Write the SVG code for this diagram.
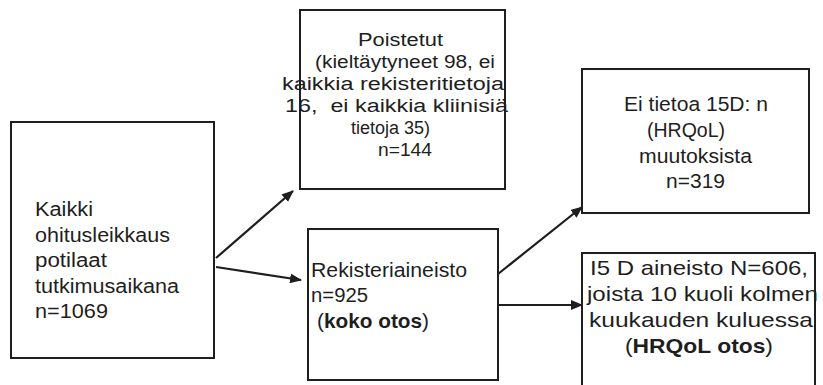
<svg xmlns="http://www.w3.org/2000/svg" width="823" height="385" viewBox="0 0 823 385">
  <style>
    .box { fill: #ffffff; stroke: #1e1e1e; stroke-width: 2; }
    .edge { fill: none; stroke: #1e1e1e; stroke-width: 2.2; }
    text { font-family: "Liberation Sans", Arial, sans-serif; fill: #1e1e1e; }
    .t19 { font-size: 19.5px; }
    .t20 { font-size: 20.5px; }
    .t21 { font-size: 21px; }
    .t17 { font-size: 18px; }
    .b { font-weight: bold; }
    .pre { white-space: pre; }
  </style>
  <defs>
    <marker id="arrow" viewBox="0 0 12 10" refX="11" refY="5" markerWidth="12" markerHeight="10" markerUnits="userSpaceOnUse" orient="auto">
      <path d="M0,0 L12,5 L0,10 Z" fill="#1e1e1e"/>
    </marker>
  </defs>
  <rect width="823" height="385" fill="#ffffff"/>

  <g id="connectors">
    <line class="edge" x1="216" y1="258" x2="293" y2="191" marker-end="url(#arrow)"/>
    <line class="edge" x1="216" y1="267" x2="301" y2="280" marker-end="url(#arrow)"/>
    <line class="edge" x1="498" y1="274" x2="582" y2="207" marker-end="url(#arrow)"/>
    <line class="edge" x1="498" y1="305" x2="582" y2="305" marker-end="url(#arrow)"/>
  </g>

  <g id="kaikki">
    <rect class="box" x="11" y="122" width="203" height="236"/>
    <text class="t19" x="35" y="216" textLength="58" lengthAdjust="spacingAndGlyphs">Kaikki</text>
    <text class="t19" x="35" y="242" textLength="135" lengthAdjust="spacingAndGlyphs">ohitusleikkaus</text>
    <text class="t19" x="35" y="267" textLength="72" lengthAdjust="spacingAndGlyphs">potilaat</text>
    <text class="t19" x="35" y="293" textLength="144" lengthAdjust="spacingAndGlyphs">tutkimusaikana</text>
    <text class="t19" x="35" y="318" textLength="73" lengthAdjust="spacingAndGlyphs">n=1069</text>
  </g>

  <g id="poistetut">
    <rect class="box" x="300" y="10" width="205" height="179"/>
    <text class="t17" x="358" y="46" textLength="85" lengthAdjust="spacingAndGlyphs">Poistetut</text>
    <text class="t17" x="315" y="68" textLength="180" lengthAdjust="spacingAndGlyphs">(kieltäytyneet 98, ei</text>
    <text class="t17" x="282" y="90" textLength="222" lengthAdjust="spacingAndGlyphs">kaikkia rekisteritietoja</text>
    <text class="t17 pre" x="285" y="112" textLength="223" lengthAdjust="spacingAndGlyphs">16,  ei kaikkia kliinisiä</text>
    <text class="t17" x="351" y="134">tietoja<tspan dx="5">35)</tspan></text>
    <text class="t17" x="378" y="156" textLength="54" lengthAdjust="spacingAndGlyphs">n=144</text>
  </g>

  <g id="rekisteri">
    <rect class="box" x="308" y="229" width="190" height="151"/>
    <text class="t20" x="311" y="277" textLength="156" lengthAdjust="spacingAndGlyphs">Rekisteriaineisto</text>
    <text class="t20" x="311" y="302" textLength="57" lengthAdjust="spacingAndGlyphs">n=925</text>
    <text class="t20" x="317" y="328" textLength="112" lengthAdjust="spacingAndGlyphs">(<tspan class="b">koko otos</tspan>)</text>
  </g>

  <g id="ei-tietoa">
    <rect class="box" x="582" y="69" width="227" height="144"/>
    <text class="t20" x="624" y="111" textLength="144" lengthAdjust="spacingAndGlyphs">Ei tietoa 15D: n</text>
    <text class="t20" x="647" y="137" textLength="78" lengthAdjust="spacingAndGlyphs">(HRQoL)</text>
    <text class="t20" x="639" y="163" textLength="113" lengthAdjust="spacingAndGlyphs">muutoksista</text>
    <text class="t20" x="666" y="188" textLength="59" lengthAdjust="spacingAndGlyphs">n=319</text>
  </g>

  <g id="aineisto">
    <rect class="box" x="582" y="253" width="233" height="140"/>
    <text class="t21" x="590" y="275" textLength="218" lengthAdjust="spacingAndGlyphs">I5 D aineisto N=606,</text>
    <text class="t21" x="587" y="301" textLength="231" lengthAdjust="spacingAndGlyphs">joista 10 kuoli kolmen</text>
    <text class="t21" x="589" y="327" textLength="224" lengthAdjust="spacingAndGlyphs">kuukauden kuluessa</text>
    <text class="t21" x="625" y="353" textLength="148" lengthAdjust="spacingAndGlyphs">(<tspan class="b">HRQoL otos</tspan>)</text>
  </g>
</svg>
